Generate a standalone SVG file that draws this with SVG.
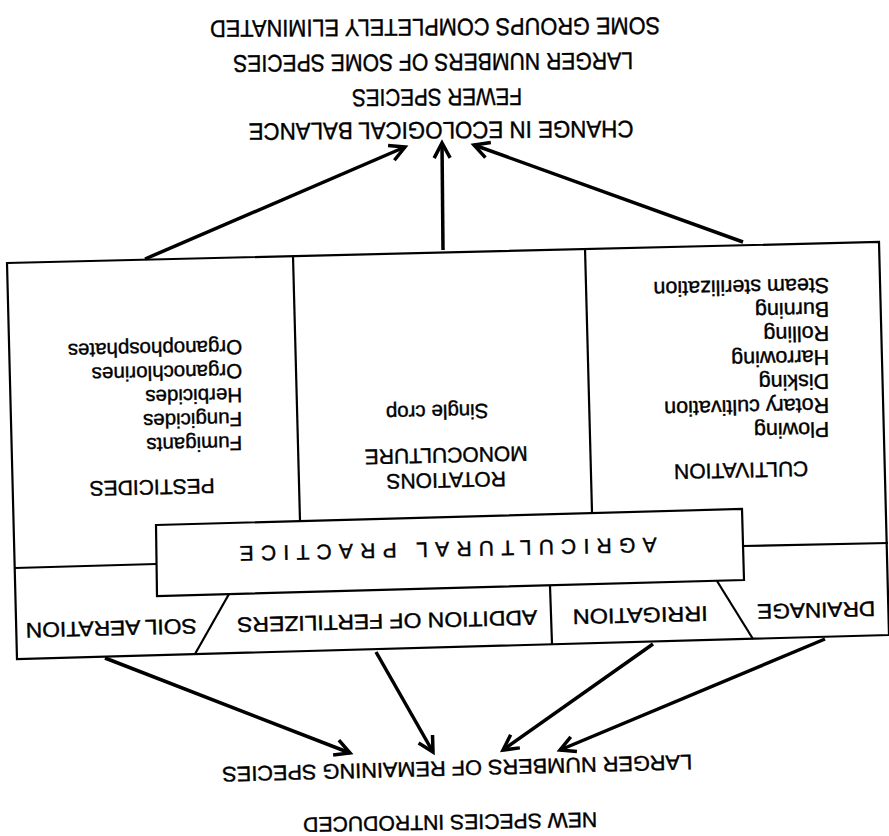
<svg xmlns="http://www.w3.org/2000/svg" width="889" height="836" viewBox="0 0 889 836">
<defs>
<style>
.ln{stroke:#000;stroke-width:2.2;fill:none}
.box{stroke:#000;stroke-width:2.2;fill:#fff}
.arr{stroke:#000;stroke-width:3.5;fill:none;marker-end:url(#ah)}
text{font-family:"Liberation Sans",Arial,Helvetica,sans-serif;fill:#000;stroke:#000;stroke-width:0.4}
.cap{font-size:21px}
.big{font-size:24px}
.item{font-size:20.5px}
.item2{font-size:21.5px}
.mid{text-anchor:middle}
.st{text-anchor:start}
</style>
<marker id="ah" markerUnits="userSpaceOnUse" markerWidth="24" markerHeight="24" viewBox="-18 -12 24 24" refX="0" refY="0" orient="auto">
<path d="M-15,-8 L0,0 L-15,8" fill="none" stroke="#000" stroke-width="3.5"/>
</marker>
</defs>
<rect width="889" height="836" fill="#fff"/>

<g id="frame">
<polygon class="box" points="7,263 879,242 889,635 17,659"/>
</g>

<g id="pesticides">
<line class="ln" x1="293" y1="256" x2="300" y2="521"/>
<line class="ln" x1="15" y1="568" x2="156" y2="564"/>
<text class="cap mid" x="152" y="480" transform="rotate(178.7 152 480)">PESTICIDES</text>
<g class="item st">
<text x="242" y="340" transform="rotate(178.7 242 340)">Organophosphates</text>
<text x="242" y="364" transform="rotate(178.7 242 364)">Organochlorines</text>
<text x="242" y="388" transform="rotate(178.7 242 388)">Herbicides</text>
<text x="242" y="412" transform="rotate(178.7 242 412)">Fungicides</text>
<text x="242" y="436" transform="rotate(178.7 242 436)">Fumigants</text>
</g>
</g>

<g id="rotations">
<text class="cap mid" x="446" y="473" transform="rotate(178.7 446 473)">ROTATIONS</text>
<text class="cap mid" x="446" y="448" transform="rotate(178.7 446 448)">MONOCULTURE</text>
<text class="item mid" x="437" y="405" transform="rotate(178.7 437 405)">Single crop</text>
</g>

<g id="cultivation">
<line class="ln" x1="585" y1="248" x2="592" y2="512"/>
<line class="ln" x1="743" y1="546" x2="888" y2="543"/>
<text class="cap mid" x="741" y="463" transform="rotate(178.7 741 463)">CULTIVATION</text>
<g class="item2 st">
<text x="829" y="278" transform="rotate(178.7 829 278)">Steam sterilization</text>
<text x="829" y="302" transform="rotate(178.7 829 302)">Burning</text>
<text x="829" y="326" transform="rotate(178.7 829 326)">Rolling</text>
<text x="829" y="350" transform="rotate(178.7 829 350)">Harrowing</text>
<text x="829" y="374" transform="rotate(178.7 829 374)">Disking</text>
<text x="829" y="398" transform="rotate(178.7 829 398)">Rotary cultivation</text>
<text x="829" y="422" transform="rotate(178.7 829 422)">Plowing</text>
</g>
</g>

<g id="agricultural-practice">
<polygon class="box" points="156,525 742,509 744,580 157,596"/>
<text class="mid" font-size="21" x="448" y="542" textLength="417" lengthAdjust="spacing" transform="rotate(178.8 448 542)">AGRICULTURAL PRACTICE</text>
</g>

<g id="soil-aeration">
<line class="ln" x1="229" y1="594" x2="195" y2="654"/>
<text class="cap mid" x="111" y="621" textLength="171" lengthAdjust="spacingAndGlyphs" transform="rotate(178.6 111 621)">SOIL AERATION</text>
</g>

<g id="fertilizers">
<line class="ln" x1="550" y1="586" x2="552" y2="644"/>
<text class="cap mid" x="387" y="614" textLength="300" lengthAdjust="spacingAndGlyphs" transform="rotate(178.6 387 614)">ADDITION OF FERTILIZERS</text>
</g>

<g id="irrigation">
<line class="ln" x1="717" y1="581" x2="753" y2="639"/>
<text class="cap mid" x="640" y="608" textLength="135" lengthAdjust="spacingAndGlyphs" transform="rotate(178.6 640 608)">IRRIGATION</text>
</g>

<g id="drainage">
<text class="cap mid" x="816" y="603" textLength="118" lengthAdjust="spacingAndGlyphs" transform="rotate(178.6 816 603)">DRAINAGE</text>
</g>

<g id="ecological-balance">
<text class="big mid" x="441" y="122" textLength="385" lengthAdjust="spacingAndGlyphs" transform="rotate(179.6 441 122)">CHANGE IN ECOLOGICAL BALANCE</text>
<text class="big mid" x="437" y="89" textLength="170" lengthAdjust="spacingAndGlyphs" transform="rotate(179.6 437 89)">FEWER SPECIES</text>
<text class="big mid" x="433" y="54" textLength="400" lengthAdjust="spacingAndGlyphs" transform="rotate(179.6 433 54)">LARGER NUMBERS OF SOME SPECIES</text>
<text class="big mid" x="435" y="19" textLength="450" lengthAdjust="spacingAndGlyphs" transform="rotate(179.6 435 19)">SOME GROUPS COMPLETELY ELIMINATED</text>
</g>

<g id="remaining-species">
<text class="cap mid" x="457" y="761" textLength="470" lengthAdjust="spacingAndGlyphs" transform="rotate(178.5 457 761)">LARGER NUMBERS OF REMAINING SPECIES</text>
<text class="cap mid" x="450" y="815" textLength="294" lengthAdjust="spacingAndGlyphs" transform="rotate(179 450 815)">NEW SPECIES INTRODUCED</text>
</g>

<g id="connectors">
<line class="arr" x1="145" y1="259" x2="405" y2="147"/>
<line class="arr" x1="443" y1="250" x2="442" y2="143"/>
<line class="arr" x1="743" y1="242" x2="474" y2="145"/>
<line class="arr" x1="105" y1="658" x2="350" y2="753"/>
<line class="arr" x1="376" y1="652" x2="433" y2="752"/>
<line class="arr" x1="653" y1="644" x2="503" y2="750"/>
<line class="arr" x1="825" y1="639" x2="560" y2="750"/>
</g>
</svg>
